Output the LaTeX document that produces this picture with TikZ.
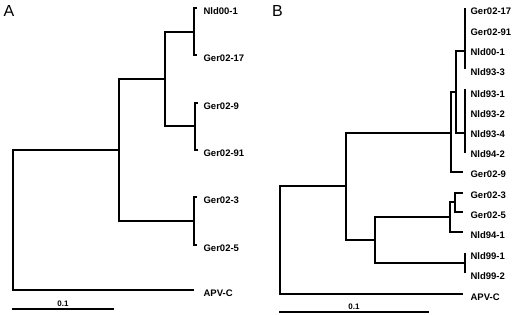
\documentclass[tikz,border=0pt]{standalone}
\usepackage{fontspec}
\setmainfont{Liberation Sans}

\begin{document}
\begin{tikzpicture}[x=1pt,y=-1pt,line width=1.2pt,
  taxon/.style={anchor=west,inner sep=0pt,font=\fontsize{9.5}{11}\selectfont\bfseries},
  panel/.style={inner sep=0pt,font=\fontsize{16}{18}\selectfont},
  scalebar/.style={above,inner sep=1.5pt,font=\fontsize{8}{9}\selectfont\bfseries}]
\useasboundingbox (0,0) rectangle (512,315);
% panel A
\node[panel] (A) at (9,11) {A};
\coordinate (ar) at (13,220);
\coordinate (a1) at (119,150);
\coordinate (a2) at (165,79);
\coordinate (a3) at (194,221);
\coordinate (a4) at (194,32);
\coordinate (a5) at (195,126);
\coordinate (aNld001) at (197,8);
\coordinate (aGer0217) at (197,55);
\coordinate (aGer029) at (198,103);
\coordinate (aGer0291) at (198,150);
\coordinate (aGer023) at (197,197);
\coordinate (aGer025) at (197,245);
\coordinate (aAPVC) at (194,290);
\draw (a1) -| (ar) |- (aAPVC);
\draw (a2) -| (a1) |- (a3);
\draw (a4) -| (a2) |- (a5);
\draw (aNld001) -| (a4) |- (aGer0217);
\draw (aGer029) -| (a5) |- (aGer0291);
\draw (aGer023) -| (a3) |- (aGer025);
\node[taxon] (lNld001) at (203,11) {Nld00-1};
\node[taxon] (lGer0217) at (203,58) {Ger02-17};
\node[taxon] (lGer029) at (203,106.5) {Ger02-9};
\node[taxon] (lGer0291) at (203,153) {Ger02-91};
\node[taxon] (lGer023) at (203,200.5) {Ger02-3};
\node[taxon] (lGer025) at (203,248) {Ger02-5};
\node[taxon] (lAPVC) at (203,293.5) {APV-C};
\coordinate (asb1) at (12,309);
\coordinate (asb2) at (114,309);
\draw (asb1) -- node[scalebar] (asbl) {0.1} (asb2);
% panel B
\node[panel] (B) at (277.5,11) {B};
\coordinate (br) at (280,240);
\coordinate (b1) at (346,186);
\coordinate (b2) at (451,133);
\coordinate (b3) at (375,240);
\coordinate (b4) at (456,92);
\coordinate (b5) at (450,217);
\coordinate (b6) at (455,202);
\coordinate (g1) at (465,51);
\coordinate (g2) at (465,133);
\coordinate (g3) at (465,263);
\coordinate (g1top) at (465,8);
\coordinate (g1bot) at (465,69.5);
\coordinate (g2top) at (465,89);
\coordinate (g2bot) at (465,153);
\coordinate (g3top) at (465,253);
\coordinate (g3bot) at (465,273);
\coordinate (bGer029) at (463,172);
\coordinate (bGer023) at (463,193);
\coordinate (bGer025) at (463,212);
\coordinate (bNld941) at (463,232);
\coordinate (bAPVC) at (463,294);
\draw (b1) -| (br) |- (bAPVC);
\draw (b2) -| (b1) |- (b3);
\draw (b4) -| (b2) |- (bGer029);
\draw (g1) -| (b4) |- (g2);
\draw (b5) -| (b3) |- (g3);
\draw (b6) -| (b5) |- (bNld941);
\draw (bGer023) -| (b6) |- (bGer025);
\draw (g1top) -- (g1bot);
\draw (g2top) -- (g2bot);
\draw (g3top) -- (g3bot);
\node[taxon] (mGer0217) at (470,11) {Ger02-17};
\node[taxon] (mGer0291) at (470,32) {Ger02-91};
\node[taxon] (mNld001) at (470,52) {Nld00-1};
\node[taxon] (mNld933) at (470,72.5) {Nld93-3};
\node[taxon] (mNld931) at (470,94) {Nld93-1};
\node[taxon] (mNld932) at (470,114) {Nld93-2};
\node[taxon] (mNld934) at (470,134) {Nld93-4};
\node[taxon] (mNld942) at (470,154) {Nld94-2};
\node[taxon] (mGer029) at (470,174.5) {Ger02-9};
\node[taxon] (mGer023) at (470,195.5) {Ger02-3};
\node[taxon] (mGer025) at (470,215) {Ger02-5};
\node[taxon] (mNld941) at (470,235) {Nld94-1};
\node[taxon] (mNld991) at (470,256) {Nld99-1};
\node[taxon] (mNld992) at (470,276) {Nld99-2};
\node[taxon] (mAPVC) at (470,297) {APV-C};
\coordinate (bsb1) at (279,312);
\coordinate (bsb2) at (429,312);
\draw (bsb1) -- node[scalebar] (bsbl) {0.1} (bsb2);
\end{tikzpicture}
\end{document}
